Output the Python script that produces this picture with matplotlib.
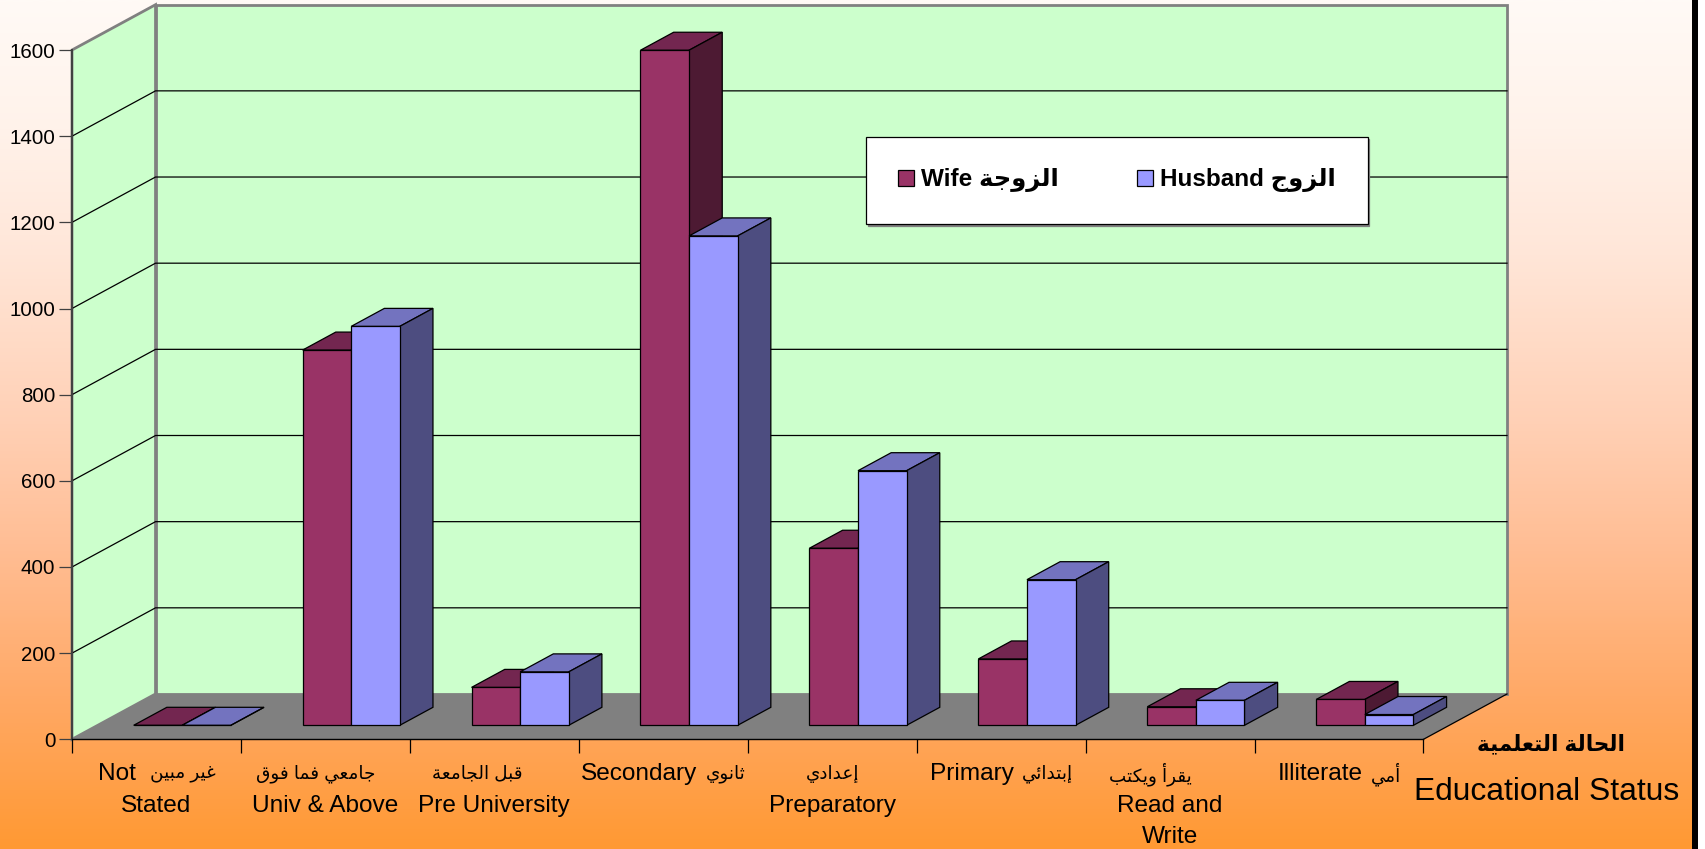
import numpy as np
import matplotlib
matplotlib.use("Agg")
import matplotlib.pyplot as plt
from matplotlib.patches import Patch, Rectangle
from matplotlib.colors import LinearSegmentedColormap

# ---------- data ----------
labels_ar = ["غير مبين", "جامعي فما فوق", "قبل الجامعة", "ثانوي", "إعدادي", "إبتدائي", "يقرأ ويكتب", "أمي"]
labels_inline = ["Not", "", "", "Secondary", "", "Primary", "", "Illiterate"]
labels_below = ["Stated", "Univ & Above", "Pre University", "", "Preparatory", "", "Read and\nWrite", ""]
wife = [0, 871, 88, 1567, 411, 154, 43, 60]
husband = [0, 926, 124, 1136, 591, 338, 58, 25]
y_ticks = [0, 200, 400, 600, 800, 1000, 1200, 1400, 1600]
wife_label = ("Wife", "الزوجة")
husband_label = ("Husband", "الزوج")
title_ar = "الحالة التعلمية"
title_en = "Educational Status"

# horizontal nudges (pixels) of the first label line, seen in the reference
first_line_shift = [0, -10, -17, 0, 0, 0, -20, 0]

# ---------- Arabic shaping (matplotlib draws glyphs left to right, unshaped) ----------
FORMS = {
    "ا": (0xFE8D, 0xFE8E), "أ": (0xFE83, 0xFE84), "إ": (0xFE87, 0xFE88),
    "د": (0xFEA9, 0xFEAA), "ر": (0xFEAD, 0xFEAE), "ز": (0xFEAF, 0xFEB0),
    "و": (0xFEED, 0xFEEE), "ة": (0xFE93, 0xFE94),
    "ب": (0xFE8F, 0xFE90, 0xFE91, 0xFE92), "ت": (0xFE95, 0xFE96, 0xFE97, 0xFE98),
    "ث": (0xFE99, 0xFE9A, 0xFE9B, 0xFE9C), "ج": (0xFE9D, 0xFE9E, 0xFE9F, 0xFEA0),
    "ح": (0xFEA1, 0xFEA2, 0xFEA3, 0xFEA4), "ع": (0xFEC9, 0xFECA, 0xFECB, 0xFECC),
    "غ": (0xFECD, 0xFECE, 0xFECF, 0xFED0), "ف": (0xFED1, 0xFED2, 0xFED3, 0xFED4),
    "ق": (0xFED5, 0xFED6, 0xFED7, 0xFED8), "ك": (0xFED9, 0xFEDA, 0xFEDB, 0xFEDC),
    "ل": (0xFEDD, 0xFEDE, 0xFEDF, 0xFEE0), "م": (0xFEE1, 0xFEE2, 0xFEE3, 0xFEE4),
    "ن": (0xFEE5, 0xFEE6, 0xFEE7, 0xFEE8), "ي": (0xFEF1, 0xFEF2, 0xFEF3, 0xFEF4),
    "ئ": (0xFE89, 0xFE8A, 0xFE8B, 0xFE8C),
}


def shape(s):
    out = []
    for i, c in enumerate(s):
        if c not in FORMS:
            out.append(c)
            continue
        prev = s[i - 1] if i > 0 else " "
        nxt = s[i + 1] if i + 1 < len(s) else " "
        join_prev = prev in FORMS and len(FORMS[prev]) == 4
        join_next = nxt in FORMS and len(FORMS[c]) == 4
        f = FORMS[c]
        if join_prev and join_next:
            g = f[3]
        elif join_prev:
            g = f[1]
        elif join_next:
            g = f[2]
        else:
            g = f[0]
        out.append(chr(g))
    return "".join(reversed(out))


# ---------- figure ----------
FAM = ["Liberation Sans", "DejaVu Sans"]
plt.rcParams["font.family"] = FAM
W, H = 1705, 849
fig = plt.figure(figsize=(W / 100, H / 100), dpi=100, facecolor="white")

bg = fig.add_axes([0, 0, 1692 / W, 1], zorder=0)
stops = [0, .15, .30, .50, .65, .82, 1]
cols = ["#FFFAF6", "#FFF2EA", "#FFE6D8", "#FFD0B5", "#FFBD93", "#FFA966", "#FF9933"]
cmap = LinearSegmentedColormap.from_list("bg", list(zip(stops, cols)))
bg.imshow(np.linspace(0, 1, 512)[:, None], aspect="auto", cmap=cmap, vmin=0, vmax=1)
bg.axis("off")
fig.add_artist(Rectangle((1692 / W, 0), 6 / W, 1, transform=fig.transFigure, fc="black", ec="none", zorder=1))

X0, X1, Y0, Y1 = 72, 1507, 739.3, 4.7
ax = fig.add_axes([X0 / W, 1 - Y0 / H, (X1 - X0) / W, (Y0 - Y1) / H], zorder=2)
ax.patch.set_visible(False)
n = len(labels_ar)
dxc, dyv = 83.5 / 168.9, 105.2
ax.set_xlim(0, n + dxc)
ax.set_ylim(0, y_ticks[-1] + dyv)


def P(x, v, d):
    return (x + dxc * d, v + dyv * d)


vmax = y_ticks[-1]
# walls and floor
ax.fill(*zip(P(0, 0, 1), P(n, 0, 1), P(n, vmax, 1), P(0, vmax, 1)), fc="#CCFFCC", ec="#808080", lw=2.0, zorder=1, clip_on=False)
ax.fill(*zip(P(0, 0, 0), P(0, 0, 1), P(0, vmax, 1), P(0, vmax, 0)), fc="#CCFFCC", ec="#808080", lw=2.0, zorder=1, clip_on=False)
for v in y_ticks[1:-1]:
    ax.plot(*zip(P(0, v, 0), P(0, v, 1), P(n, v, 1)), color="black", lw=0.9, zorder=2, clip_on=False)
ax.fill(*zip(P(0, 0, 0), P(n, 0, 0), P(n, 0, 1), P(0, 0, 1)), fc="#808080", ec="none", zorder=3, clip_on=False)
ax.plot(*zip(P(n, 0, 0), P(n, 0, 1)), color="black", lw=0.9, zorder=3, clip_on=False)

# bars
BW, D0, D1 = 0.2877, 0.309, 0.706
GAP = (1 - 2 * BW) / 2
series = [
    (wife, 0, "#993366", "#732650", "#4D1A33"),
    (husband, 1, "#9999FF", "#7373BF", "#4D4D80"),
]
z = 4
for i in range(n):
    for vals, k, front, top, side in series:
        h = vals[i]
        a = i + GAP + k * BW
        b = a + BW
        kw = dict(ec="black", lw=0.9, clip_on=False, joinstyle="miter")
        ax.fill(*zip(P(a, h, D0), P(b, h, D0), P(b, h, D1), P(a, h, D1)), fc=top, zorder=z, **kw)
        ax.fill(*zip(P(b, 0, D0), P(b, 0, D1), P(b, h, D1), P(b, h, D0)), fc=side, zorder=z, **kw)
        ax.fill(*zip(P(a, 0, D0), P(b, 0, D0), P(b, h, D0), P(a, h, D0)), fc=front, zorder=z + 0.1, **kw)
        z += 0.2

# axes lines and ticks
for s in ("top", "right"):
    ax.spines[s].set_visible(False)
ax.spines["left"].set_bounds(0, vmax)
ax.spines["bottom"].set_bounds(0, n)
ax.spines["left"].set_color("#404040")
ax.spines["left"].set_linewidth(1.4)
ax.spines["bottom"].set_color("black")
ax.spines["bottom"].set_linewidth(1.0)
for sp in ax.spines.values():
    sp.set_zorder(200)
ax.set_yticks(y_ticks)
ax.set_yticklabels([str(v) for v in y_ticks])
ax.set_xticks(range(n + 1))
ax.set_xticklabels([])
ax.tick_params(axis="y", length=9.4, width=0.9, color="#404040", labelsize=14.8, pad=2.5)
ax.tick_params(axis="x", length=10, width=0.9, color="black")

# category labels
rend = fig.canvas.get_renderer()
LAT, ARA = 17.6, 13.2


def offs(x_i, px, py, s, size, ha="left", weight="normal"):
    return ax.annotate(s, xy=(x_i, 0), xycoords=("data", "data"), xytext=(px * 0.72, py * 0.72),
                       textcoords="offset points", ha=ha, va="center", fontsize=size,
                       family=FAM, weight=weight, annotation_clip=False, zorder=210)


for i in range(n):
    cx = i + 0.5
    lat, ar = labels_inline[i], shape(labels_ar[i])
    y1 = -34.5
    t_ar = offs(cx, 0, y1, ar, ARA)
    w_ar = t_ar.get_window_extent(rend).width
    if lat:
        t_lat = offs(cx, 0, y1, lat, LAT)
        w_lat = t_lat.get_window_extent(rend).width
        gap = 14 if lat == "Not" else 8
        total = w_lat + gap + w_ar
        t_lat.xyann = ((-total / 2 + first_line_shift[i]) * 0.72, y1 * 0.72)
        t_ar.xyann = ((-total / 2 + w_lat + gap + first_line_shift[i]) * 0.72, y1 * 0.72)
    else:
        t_ar.xyann = ((-w_ar / 2 + first_line_shift[i]) * 0.72, y1 * 0.72)
    if labels_below[i]:
        for j, line in enumerate(labels_below[i].split("\n")):
            offs(cx, 0, -66.5 - 31 * j, line, LAT, ha="center")

# axis titles
fig.text(1551 / W, 1 - 745 / H, shape(title_ar), ha="center", va="center", fontsize=15.6, family=FAM, weight="bold", zorder=5)
fig.text(1547 / W, 1 - 792 / H, title_en, ha="center", va="center", fontsize=22.9, family=FAM, zorder=5)

# legend
handles = [Patch(fc="#993366", ec="black", lw=0.9), Patch(fc="#9999FF", ec="black", lw=0.9)]
texts = [f"{wife_label[0]} {shape(wife_label[1])}", f"{husband_label[0]} {shape(husband_label[1])}"]
leg = ax.legend(handles, texts, ncol=2, loc="center",
                bbox_to_anchor=((865 + 1369) / 2 / W, 1 - (136 + 225) / 2 / H), bbox_transform=fig.transFigure,
                prop={"family": FAM, "weight": "bold", "size": 17.5}, frameon=True, fancybox=False,
                edgecolor="black", facecolor="white", framealpha=1, borderpad=1.3, handlelength=0.66,
                handleheight=0.66, handletextpad=0.3, columnspacing=3.2,
                shadow={"color": "#808080", "alpha": 1, "ox": 1.2, "oy": -1.2})
leg.set_zorder(300)
leg.get_frame().set_linewidth(0.9)

fig.savefig("out.png", dpi=100)
